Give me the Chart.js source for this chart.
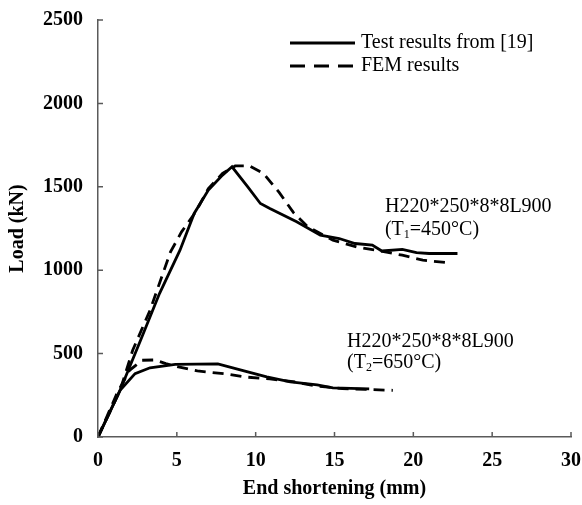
<!DOCTYPE html>
<html>
<head>
<meta charset="utf-8">
<script src="https://cdn.jsdelivr.net/npm/chart.js@4/dist/chart.umd.min.js"></script>
<style>
html,body{margin:0;padding:0;background:#fff;}
#wrap{width:582px;height:505px;position:relative;}
</style>
</head>
<body>
<div id="wrap"><canvas id="c" width="582" height="505"></canvas></div>
<script>
// ---- data ----
const xTicks = [0, 5, 10, 15, 20, 25, 30];
const yTicks = [0, 500, 1000, 1500, 2000, 2500];

const test450X = [0, 1.4, 2.7, 3.9, 5.2, 6.1, 7.0, 7.9, 8.5, 9.5, 10.3, 10.9, 12.6, 14.1, 15.3, 16.3, 17.4, 18.0, 19.3, 20.2, 21.0, 22.8];
const test450Y = [0, 280, 580, 860, 1120, 1340, 1480, 1570, 1620, 1500, 1400, 1370, 1290, 1210, 1190, 1160, 1150, 1115, 1125, 1105, 1100, 1100];

const fem450X = [0, 1.4, 2.2, 3.3, 4.6, 5.3, 6.2, 7.0, 7.9, 8.7, 9.6, 10.5, 11.5, 12.4, 13.3, 14.9, 16.4, 17.9, 19.3, 20.6, 22.2];
const fem450Y = [0, 280, 520, 760, 1110, 1230, 1350, 1490, 1580, 1625, 1625, 1580, 1465, 1345, 1260, 1180, 1140, 1115, 1090, 1060, 1045];

const test650X = [0, 1.4, 2.35, 3.3, 4.9, 7.6, 9.5, 10.7, 12.2, 13.9, 14.9, 17.2];
const test650Y = [0, 280, 380, 415, 435, 438, 390, 360, 330, 312, 294, 288];

const fem650X = [0, 1.2, 2.0, 2.8, 3.6, 4.3, 5.1, 6.3, 8.1, 9.3, 10.9, 12.5, 13.9, 15.5, 17.0, 18.7];
const fem650Y = [0, 260, 400, 460, 462, 440, 420, 396, 378, 360, 348, 330, 305, 290, 285, 280];

const legendLabels = ["Test results from [19]", "FEM results"];
const note450 = ["H220*250*8*8L900", "(T", "1", "=450°C)"];
const note650 = ["H220*250*8*8L900", "(T", "2", "=650°C)"];
const note450Pos = [18.2, 1350];
const note650Pos = [15.8, 540];

const pts = (xs, ys) => xs.map((x, i) => ({x: x, y: ys[i]}));

const SERIF = '"Liberation Serif", "Times New Roman", serif';

const solid = { borderColor: '#000', borderWidth: 2.8, pointRadius: 0, fill: false, tension: 0, borderDash: [] };
const dashed = { borderColor: '#000', borderWidth: 2.8, pointRadius: 0, fill: false, tension: 0, borderDash: [11, 7] };

// inward tick marks
const innerTicks = {
  id: 'innerTicks',
  afterDraw(chart) {
    const ctx = chart.ctx, xs = chart.scales.x, ys = chart.scales.y;
    ctx.save();
    ctx.strokeStyle = '#5a5a5a';
    ctx.lineWidth = 1.5;
    ctx.beginPath();
    xTicks.forEach(v => {
      const p = xs.getPixelForValue(v);
      ctx.moveTo(p, ys.bottom); ctx.lineTo(p, ys.bottom - 5);
    });
    yTicks.forEach(v => {
      const p = ys.getPixelForValue(v);
      ctx.moveTo(xs.left, p); ctx.lineTo(xs.left + 5, p);
    });
    ctx.stroke();
    ctx.restore();
  }
};

// legend + annotations
const extras = {
  id: 'extras',
  afterDraw(chart) {
    const ctx = chart.ctx, xs = chart.scales.x, ys = chart.scales.y;
    ctx.save();
    // legend
    ctx.strokeStyle = '#000';
    ctx.lineWidth = 2.8;
    ctx.beginPath(); ctx.setLineDash([]);
    ctx.moveTo(290, 43); ctx.lineTo(355, 43); ctx.stroke();
    ctx.beginPath(); ctx.setLineDash([15, 9]);
    ctx.moveTo(290, 66); ctx.lineTo(355, 66); ctx.stroke();
    ctx.setLineDash([]);
    ctx.fillStyle = '#000';
    ctx.font = '20px ' + SERIF;
    ctx.textBaseline = 'middle';
    ctx.textAlign = 'left';
    ctx.fillText(legendLabels[0], 361, 43);
    ctx.fillText(legendLabels[1], 361, 66);

    // annotations
    const drawNote = (note, pos, gap) => {
      const x = xs.getPixelForValue(pos[0]);
      const y = ys.getPixelForValue(pos[1]);
      ctx.textBaseline = 'alphabetic';
      ctx.font = '20px ' + SERIF;
      ctx.fillText(note[0], x, y);
      const y2 = y + gap;
      ctx.fillText(note[1], x, y2);
      let cx = x + ctx.measureText(note[1]).width;
      ctx.font = '12px ' + SERIF;
      ctx.fillText(note[2], cx, y2 + 3);
      cx += ctx.measureText(note[2]).width;
      ctx.font = '20px ' + SERIF;
      ctx.fillText(note[3], cx, y2);
    };
    drawNote(note450, note450Pos, 23);
    drawNote(note650, note650Pos, 21);
    ctx.restore();
  }
};

new Chart(document.getElementById('c'), {
  type: 'line',
  data: {
    datasets: [
      Object.assign({ label: legendLabels[0], data: pts(test450X, test450Y) }, solid),
      Object.assign({ label: legendLabels[1], data: pts(fem450X, fem450Y) }, dashed),
      Object.assign({ label: legendLabels[0] + ' 650', data: pts(test650X, test650Y) }, solid),
      Object.assign({ label: legendLabels[1] + ' 650', data: pts(fem650X, fem650Y) }, dashed)
    ]
  },
  options: {
    responsive: false,
    animation: false,
    layout: { padding: { left: 0, right: 11, top: 20, bottom: 0 } },
    plugins: { legend: { display: false }, tooltip: { enabled: false } },
    scales: {
      x: {
        type: 'linear', min: 0, max: 30,
        afterFit(s) { s.height = 68; s.paddingRight = 0; s.paddingLeft = 0; },
        afterBuildTicks(s) { s.ticks = xTicks.map(v => ({ value: v })); },
        grid: { display: true, drawOnChartArea: false, drawTicks: false },
        border: { display: true, color: '#5a5a5a', width: 1.5 },
        ticks: { color: '#000', padding: 12, maxRotation: 0, callback: v => String(v), font: { family: SERIF, size: 20, weight: 'bold' } },
        title: { display: true, text: 'End shortening (mm)', color: '#000', padding: { top: 0, bottom: 4 }, font: { family: SERIF, size: 20, weight: 'bold' } }
      },
      y: {
        type: 'linear', min: 0, max: 2500,
        afterFit(s) { s.width = 98; s.paddingTop = 0; s.paddingBottom = 0; },
        afterBuildTicks(s) { s.ticks = yTicks.map(v => ({ value: v })); },
        grid: { display: true, drawOnChartArea: false, drawTicks: false },
        border: { display: true, color: '#5a5a5a', width: 1.5 },
        ticks: { color: '#000', padding: 15, callback: v => String(v), font: { family: SERIF, size: 20, weight: 'bold' } },
        title: { display: true, text: 'Load (kN)', color: '#000', padding: { top: 6, bottom: 0 }, font: { family: SERIF, size: 20, weight: 'bold' } }
      }
    }
  },
  plugins: [innerTicks, extras]
});
</script>
</body>
</html>
